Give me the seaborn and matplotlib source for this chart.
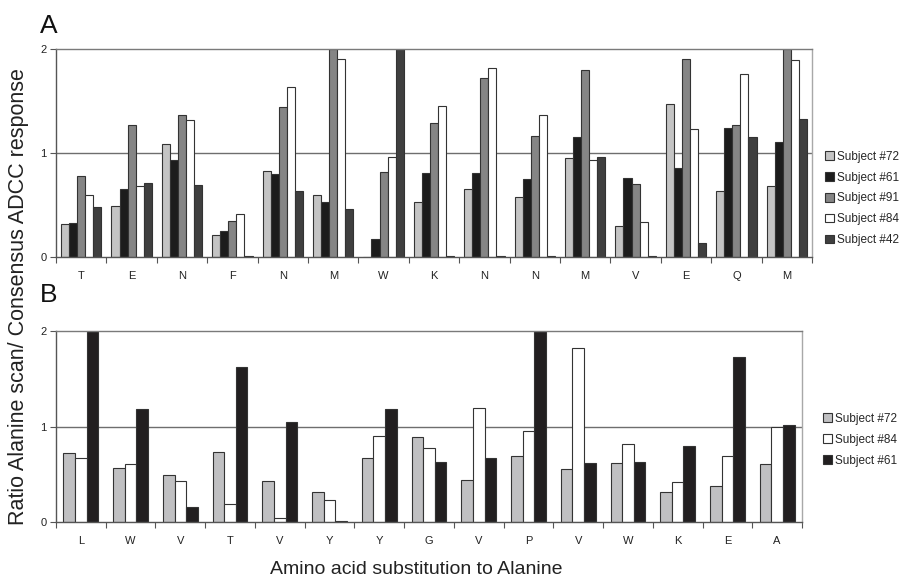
import matplotlib
matplotlib.use("Agg")
import matplotlib.pyplot as plt
from matplotlib.patches import Patch
from matplotlib.ticker import FixedLocator, NullFormatter
import seaborn as sns
import pandas as pd
import numpy as np

# ---------------- data ----------------
residues_a = ["T", "E", "N", "F", "N", "M", "W", "K", "N", "N", "M", "V", "E", "Q", "M"]
subjects_a = ["Subject #72", "Subject #61", "Subject #91", "Subject #84", "Subject #42"]
s72_a = [0.32, 0.49, 1.09, 0.21, 0.83, 0.60, 0.00, 0.53, 0.65, 0.58, 0.95, 0.30, 1.47, 0.63, 0.68]
s61_a = [0.33, 0.65, 0.93, 0.25, 0.80, 0.53, 0.17, 0.81, 0.81, 0.75, 1.15, 0.76, 0.86, 1.24, 1.11]
s91_a = [0.78, 1.27, 1.37, 0.35, 1.44, 2.00, 0.82, 1.29, 1.72, 1.16, 1.80, 0.70, 1.90, 1.27, 2.00]
s84_a = [0.60, 0.68, 1.32, 0.41, 1.63, 1.90, 0.96, 1.45, 1.82, 1.37, 0.93, 0.34, 1.23, 1.76, 1.89]
s42_a = [0.48, 0.71, 0.69, 0.01, 0.63, 0.46, 2.00, 0.01, 0.01, 0.01, 0.96, 0.01, 0.13, 1.15, 1.33]

residues_b = ["L", "W", "V", "T", "V", "Y", "Y", "G", "V", "P", "V", "W", "K", "E", "A"]
subjects_b = ["Subject #72", "Subject #84", "Subject #61"]
s72_b = [0.72, 0.57, 0.49, 0.74, 0.43, 0.32, 0.67, 0.89, 0.44, 0.69, 0.56, 0.62, 0.32, 0.38, 0.61]
s84_b = [0.67, 0.61, 0.43, 0.19, 0.05, 0.23, 0.90, 0.78, 1.20, 0.95, 1.82, 0.82, 0.42, 0.69, 1.00]
s61_b = [2.00, 1.18, 0.16, 1.62, 1.05, 0.01, 1.18, 0.63, 0.67, 2.00, 0.62, 0.63, 0.80, 1.73, 1.02]

y_ticks = [0, 1, 2]
y_label = "Ratio Alanine scan/ Consensus ADCC response"
x_label = "Amino acid substitution to Alanine"

colors_a = {"Subject #72": "#c4c4c4", "Subject #61": "#1c1c1c", "Subject #91": "#858585",
            "Subject #84": "#ffffff", "Subject #42": "#3f3f3f"}
colors_b = {"Subject #72": "#c0c0c2", "Subject #84": "#ffffff", "Subject #61": "#221f20"}

# ---------------- build frames ----------------
def long_frame(residues, subjects, series):
    rows = []
    for subj, vals in zip(subjects, series):
        for i, (r, v) in enumerate(zip(residues, vals)):
            rows.append({"pos": i, "res": r, "subject": subj, "value": v})
    return pd.DataFrame(rows)

df_a = long_frame(residues_a, subjects_a, [s72_a, s61_a, s91_a, s84_a, s42_a])
df_b = long_frame(residues_b, subjects_b, [s72_b, s84_b, s61_b])

sns.set_theme(style="white")
plt.rcParams["font.family"] = ["Liberation Sans", "DejaVu Sans"]

fig = plt.figure(figsize=(8.99, 5.79), dpi=100)
ax_a = fig.add_axes([0.0623, 0.5561, 0.8409, 0.3593])
ax_b = fig.add_axes([0.0623, 0.0979, 0.8298, 0.3304])

edge = "#333333"

def draw(ax, df, subjects, residues, palette, width, legend_xy):
    sns.barplot(data=df, x="pos", y="value", hue="subject", hue_order=subjects,
                palette=palette, width=width, ax=ax, errorbar=None,
                edgecolor=edge, linewidth=0.8, legend=False, order=list(range(len(residues))))
    ax.set_ylim(0, 2)
    ax.set_xlim(-0.5, len(residues) - 0.5)
    ax.set_yticks(y_ticks)
    ax.set_yticklabels([str(t) for t in y_ticks], fontsize=8, color="#222222")
    ax.set_xticks(range(len(residues)))
    ax.set_xticklabels(residues, fontsize=8, color="#222222")
    ax.xaxis.set_minor_locator(FixedLocator(np.arange(-0.5, len(residues), 1.0)))
    ax.xaxis.set_minor_formatter(NullFormatter())
    ax.tick_params(axis="x", which="major", length=0, pad=10)
    ax.tick_params(axis="x", which="minor", length=4, width=0.8, color="#555555", direction="out", bottom=True)
    ax.tick_params(axis="y", which="major", length=4, width=0.8, color="#555555", direction="out", left=True, pad=3)
    ax.set_xlabel("")
    ax.set_ylabel("")
    ax.axhline(1, color="#6e6e6e", lw=1.0, zorder=0)
    for s in ["left", "bottom"]:
        ax.spines[s].set_color("#555555")
        ax.spines[s].set_linewidth(1.0)
    ax.spines["top"].set_color("#7a7a7a")
    ax.spines["top"].set_linewidth(1.0)
    ax.spines["right"].set_color("#a8a8a8")
    ax.spines["right"].set_linewidth(1.0)
    for sp in ax.spines.values():
        sp.set_visible(True)
    handles = [Patch(facecolor=palette[s], edgecolor=edge, linewidth=0.8, label=s) for s in subjects]
    fig.legend(handles=handles, loc="upper left", bbox_to_anchor=legend_xy, frameon=False,
               fontsize=8.5, handlelength=0.75, handleheight=0.75, handletextpad=0.25,
               labelspacing=0.75, borderpad=0.0)

draw(ax_a, df_a, subjects_a, residues_a, colors_a, 0.8, (0.911, 0.75))
draw(ax_b, df_b, subjects_b, residues_b, colors_b, 0.7, (0.909, 0.297))

fig.text(0.054, 0.955, "A", fontsize=19, ha="center", va="center", color="#111111")
fig.text(0.054, 0.49, "B", fontsize=19, ha="center", va="center", color="#111111")
fig.text(0.021, 0.487, y_label, rotation=90, fontsize=15.5, ha="center", va="center", color="#222222")
fig.text(0.463, 0.017, x_label, fontsize=14, ha="center", va="center", color="#222222")

fig.savefig("out.png", dpi=100)
